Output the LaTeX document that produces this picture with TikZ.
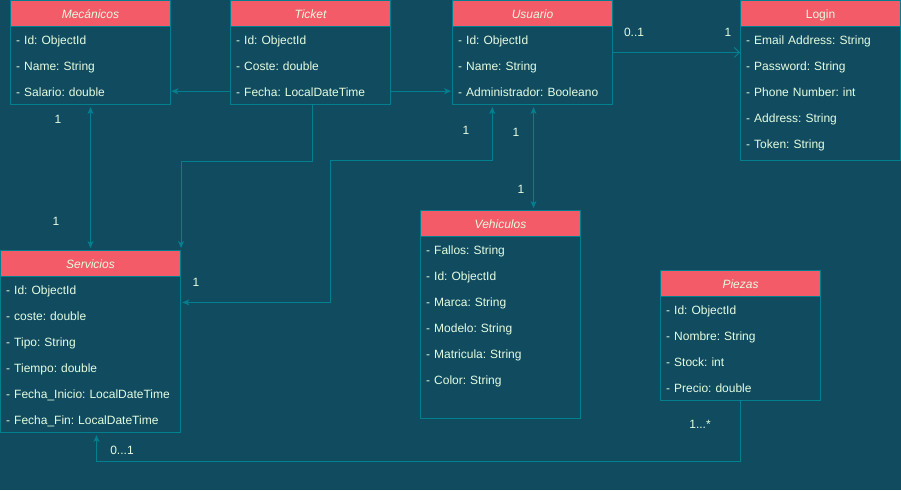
\documentclass[tikz,border=0pt]{standalone}
\usepackage{fontspec}
\setmainfont{Liberation Sans}
\usetikzlibrary{arrows.meta,calc}
\definecolor{bg}{HTML}{114B5F}
\definecolor{hdr}{HTML}{F45B69}
\definecolor{ln}{HTML}{028090}
\definecolor{txt}{HTML}{E4FDE1}
\begin{document}
\frenchspacing
\begin{tikzpicture}[x=1pt,y=-1pt,
  every node/.style={text=txt, font=\fontsize{12}{14}\selectfont\frenchspacing},
  head/.style={draw=ln, line width=1pt, fill=hdr, anchor=north west, inner sep=0pt,
    minimum width=#1, minimum height=26pt, text depth=0pt, text height=10pt,
    font=\fontsize{12}{14}\selectfont\itshape},
  headup/.style={head=#1, font=\fontsize{12}{14}\selectfont},
  body/.style={draw=ln, line width=1pt, anchor=north west, inner sep=0pt},
  row/.style={anchor=north west, inner xsep=6pt, inner ysep=0pt, minimum height=26pt,
    text width=#1, align=left, text depth=0pt, text height=10pt},
  row/.default=148pt,
  mult/.style={inner sep=0pt},
  assoc/.style={draw=ln, line width=1pt, -{Stealth[length=7pt,width=6pt,inset=2pt]}},
  assocboth/.style={draw=ln, line width=1pt, {Stealth[length=7pt,width=6pt,inset=2pt]}-{Stealth[length=7pt,width=6pt,inset=2pt]}},
  navig/.style={draw=ln, line width=1pt, -{Straight Barb[length=5pt,width=10pt]}}
]
\useasboundingbox[fill=bg] (0,0) rectangle (901,490);

% Mecanicos
\node[body, minimum width=160pt, minimum height=104pt] (mecbody) at (10,0) {};
\node[head=160pt] (mechead) at (10,0) {Mecánicos};
\node[row] (mec1) at (10,26) {- Id: ObjectId};
\node[row] (mec2) at (10,52) {- Name: String};
\node[row] (mec3) at (10,78) {- Salario: double};

% Ticket
\node[body, minimum width=160pt, minimum height=104pt] (tkbody) at (230,0) {};
\node[head=160pt] (tkhead) at (230,0) {Ticket};
\node[row] (tk1) at (230,26) {- Id: ObjectId};
\node[row] (tk2) at (230,52) {- Coste: double};
\node[row] (tk3) at (230,78) {- Fecha: LocalDateTime};

% Usuario
\node[body, minimum width=160pt, minimum height=104pt] (usbody) at (452,0) {};
\node[head=160pt] (ushead) at (452,0) {Usuario};
\node[row] (us1) at (452,26) {- Id: ObjectId};
\node[row] (us2) at (452,52) {- Name: String};
\node[row] (us3) at (452,78) {- Administrador: Booleano};

% Login
\node[body, minimum width=160pt, minimum height=160pt] (lgbody) at (740,0) {};
\node[headup=160pt] (lghead) at (740,0) {Login};
\node[row] (lg1) at (740,26) {- Email Address: String};
\node[row] (lg2) at (740,52) {- Password: String};
\node[row] (lg3) at (740,78) {- Phone Number: int};
\node[row] (lg4) at (740,104) {- Address: String};
\node[row] (lg5) at (740,130) {- Token: String};

% Servicios
\node[body, minimum width=180pt, minimum height=182pt] (svbody) at (0,250) {};
\node[head=180pt] (svhead) at (0,250) {Servicios};
\node[row=168pt] (sv1) at (0,276) {- Id: ObjectId};
\node[row=168pt] (sv2) at (0,302) {- coste: double};
\node[row=168pt] (sv3) at (0,328) {- Tipo: String};
\node[row=168pt] (sv4) at (0,354) {- Tiempo: double};
\node[row=168pt] (sv5) at (0,380) {- Fecha\_Inicio: LocalDateTime};
\node[row=168pt] (sv6) at (0,406) {- Fecha\_Fin: LocalDateTime};

% Vehiculos
\node[body, minimum width=160pt, minimum height=208pt] (vhbody) at (420,210) {};
\node[head=160pt] (vhhead) at (420,210) {Vehiculos};
\node[row] (vh1) at (420,236) {- Fallos: String};
\node[row] (vh2) at (420,262) {- Id: ObjectId};
\node[row] (vh3) at (420,288) {- Marca: String};
\node[row] (vh4) at (420,314) {- Modelo: String};
\node[row] (vh5) at (420,340) {- Matricula: String};
\node[row] (vh6) at (420,366) {- Color: String};

% Piezas
\node[body, minimum width=160pt, minimum height=130pt] (pzbody) at (660,270) {};
\node[head=160pt] (pzhead) at (660,270) {Piezas};
\node[row] (pz1) at (660,296) {- Id: ObjectId};
\node[row] (pz2) at (660,322) {- Nombre: String};
\node[row] (pz3) at (660,348) {- Stock: int};
\node[row] (pz4) at (660,374) {- Precio: double};

% Associations
\draw[assoc, shorten >=1pt] (tk3.west) -- (mec3.east);
\draw[assoc, shorten >=1pt] (tk3.east) -- (us3.west);
\draw[navig] (us1.south east) -- (lg1.south west);
\draw[assocboth, shorten <=2pt, shorten >=2pt] (mecbody.south) -- (svhead.north);
\coordinate (tkout) at ($(tkbody.south)+(2,0)$);
\draw[assoc, shorten >=2pt] (tkout) -- ++(0,56) -| (svhead.north east);
\coordinate (usq) at ($(usbody.south west)!0.25!(usbody.south east)$);
\draw[assocboth, shorten <=2pt, shorten >=2pt] (usq) |- (330,160) |- (sv1.south east);
\coordinate (usvh) at ($(usbody.south)+(1,0)$);
\coordinate (vhin) at (usvh |- vhhead.north);
\draw[assocboth, shorten <=2pt, shorten >=2pt] (usvh) -- (vhin);
\draw[assoc, shorten >=2pt] (pzbody.south) -- ++(0,60) -| ([xshift=6pt]svbody.south);

% Multiplicities
\node[mult] (m01) at (634,32) {0..1};
\node[mult] (m02) at (728,32) {1};
\node[mult] (m03) at (58,119) {1};
\node[mult] (m04) at (56,221) {1};
\node[mult] (m05) at (466,130) {1};
\node[mult] (m06) at (516,132) {1};
\node[mult] (m07) at (521,189) {1};
\node[mult] (m08) at (196,282) {1};
\node[mult] (m09) at (700,424) {1...*};
\node[mult] (m10) at (122,450) {0...1};
\end{tikzpicture}
\end{document}
